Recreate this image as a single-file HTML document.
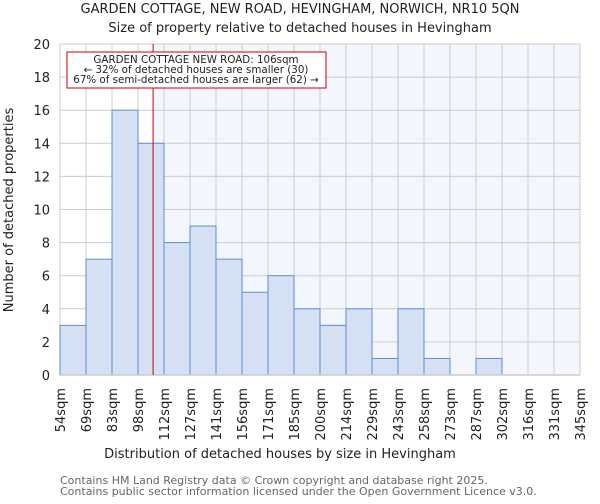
<!DOCTYPE html>
<html><head><meta charset="utf-8"><style>
body{margin:0;background:#fff;font-family:"DejaVu Sans","Liberation Sans",sans-serif}
</style></head><body>
<svg id="chart" width="600" height="500" xmlns="http://www.w3.org/2000/svg" font-family="DejaVu Sans, Liberation Sans, sans-serif">
<text x="300" y="13" text-anchor="middle" font-size="13" fill="#222">GARDEN COTTAGE, NEW ROAD, HEVINGHAM, NORWICH, NR10 5QN</text>
<text x="300" y="32" text-anchor="middle" font-size="13" fill="#222">Size of property relative to detached houses in Hevingham</text>
<g id="plot"></g>
<text x="280" y="458" text-anchor="middle" font-size="13" fill="#222">Distribution of detached houses by size in Hevingham</text>
<text transform="translate(13,210) rotate(-90)" text-anchor="middle" font-size="13" fill="#222">Number of detached properties</text>
<text x="60" y="484" font-size="11" fill="#666">Contains HM Land Registry data © Crown copyright and database right 2025.</text>
<text x="60" y="495" font-size="11" fill="#666">Contains public sector information licensed under the Open Government Licence v3.0.</text>
</svg>
<script>
const categories=["54sqm","69sqm","83sqm","98sqm","112sqm","127sqm","141sqm","156sqm","171sqm","185sqm","200sqm","214sqm","229sqm","243sqm","258sqm","273sqm","287sqm","302sqm","316sqm","331sqm","345sqm"];
const counts=[3,7,16,14,8,9,7,5,6,4,3,4,1,4,1,0,1,0,0,0];
const yTicks=[0,2,4,6,8,10,12,14,16,18,20];
const markerBin=3.58;
const NS="http://www.w3.org/2000/svg";
const L=60,R=580,T=44,B=375,yMax=20;
const nb=counts.length,bw=(R-L)/nb;
const x=i=>L+i*bw, y=v=>B-(v/yMax)*(B-T);
const g=document.getElementById('plot');
function mk(t,a){const e=document.createElementNS(NS,t);for(const k in a)e.setAttribute(k,a[k]);g.appendChild(e);return e;}
const mx=x(markerBin);
let e=mk('rect',{x:mx,y:T,width:R-mx,height:B-T,fill:'#f3f6fd'});


yTicks.forEach(v=>{
 let l=mk('line',{x1:L,x2:R,y1:y(v),y2:y(v),stroke:'#ccc','stroke-width':1});
 
 
 let t=mk('text',{x:L-10,y:y(v)+5,'text-anchor':'end','font-size':13,fill:'#222'});
 t.textContent=v;
 
 
});
categories.forEach((c,i)=>{
 let l=mk('line',{x1:x(i),x2:x(i),y1:T,y2:B,stroke:'#ccc','stroke-width':1});
 
 
 let t=mk('text',{transform:`translate(${x(i)+5},388) rotate(-90)`,'text-anchor':'end','font-size':13,fill:'#222'});
 t.textContent=c;
 
 
});
counts.forEach((v,i)=>{
 if(v<=0)return;
 let r=mk('rect',{x:x(i),y:y(v),width:bw,height:B-y(v),fill:'#d6e1f3',stroke:'#5b8fd6','stroke-width':1});
 
 
});
let ax=mk('line',{x1:L,x2:R,y1:B,y2:B,stroke:'#ccc','stroke-width':1.5});


let ml=mk('line',{x1:mx,x2:mx,y1:T,y2:B,stroke:'#cc0000','stroke-width':1});


let box=mk('rect',{x:67,y:52,width:259,height:36,fill:'#fff',stroke:'#cc0000','stroke-width':1});


[["GARDEN COTTAGE NEW ROAD: 106sqm",63],["← 32% of detached houses are smaller (30)",73],["67% of semi-detached houses are larger (62) →",83]].forEach(([s,yy],k)=>{
 let t=mk('text',{x:196,y:yy,'text-anchor':'middle','font-size':10.3,fill:'#222'});
 t.textContent=s;
 
 
});
</script>
</body></html>
